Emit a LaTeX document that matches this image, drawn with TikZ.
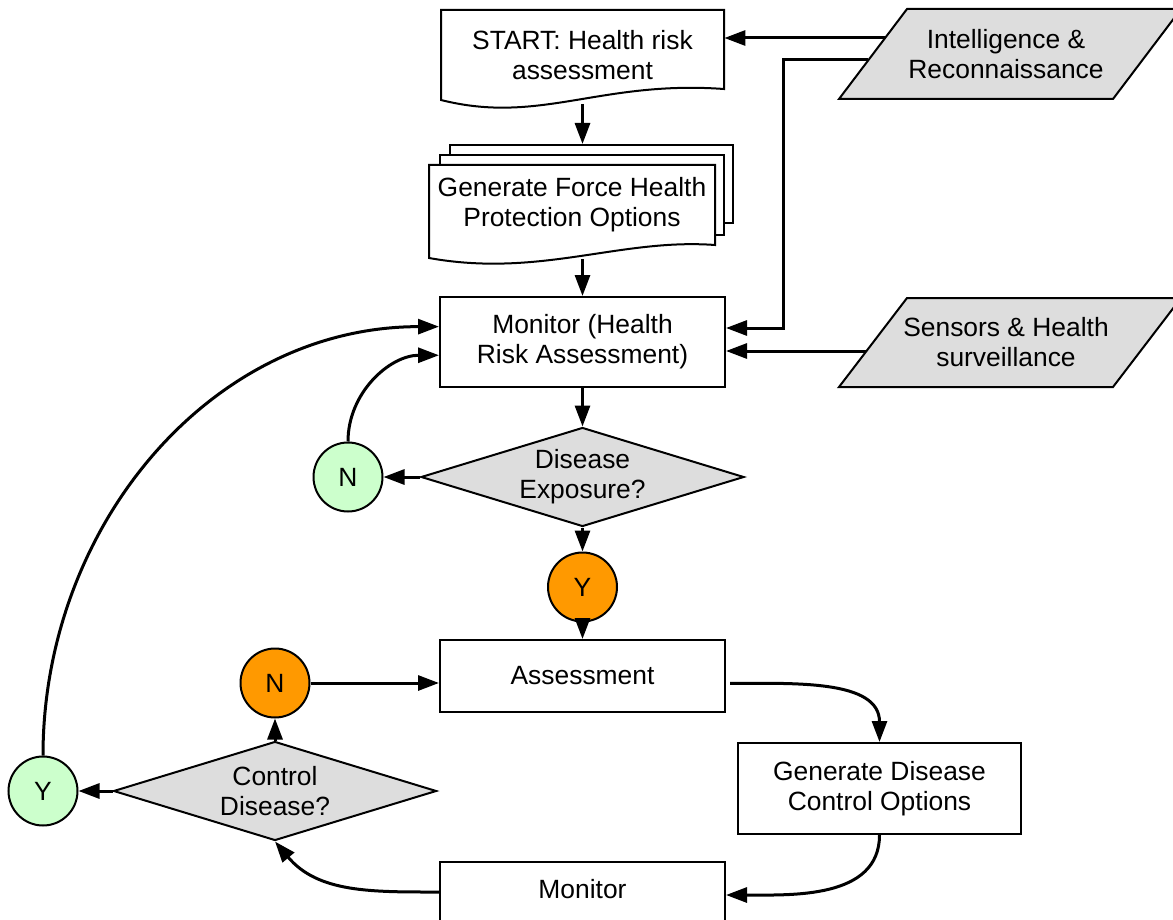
\documentclass[tikz,border=0pt]{standalone}
\usepackage{fontspec}
\setmainfont{Liberation Sans}
\usetikzlibrary{shapes.geometric,arrows.meta,calc}
\definecolor{shade}{HTML}{DDDDDD}
\definecolor{mint}{HTML}{CCFFCC}
\definecolor{amber}{HTML}{FF9900}
\begin{document}
\begin{tikzpicture}[x=0.5pt,y=-0.5pt,
  every node/.style={font=\fontsize{13.2}{15}\selectfont},
  proc/.style={draw,line width=1pt,fill=white,minimum width=142.5pt,align=center,inner sep=2pt},
  sheet/.style={draw,line width=1pt,fill=white,minimum width=141.5pt},
  doctext/.style={align=center,inner sep=0pt},
  source/.style={draw,line width=1pt,fill=shade},
  choice/.style={diamond,draw,line width=1pt,fill=shade,aspect=3.26,minimum width=161.5pt,
    minimum height=49.5pt,inner sep=0pt,align=center},
  yesno/.style={circle,draw,line width=1pt,minimum size=34.5pt,inner sep=0pt},
  conn/.style={line width=1.5pt,-{Triangle[length=10.5pt,width=7.5pt]}}]
\useasboundingbox (0,0) rectangle (1173,920);
\clip (0,0) rectangle (1173,920);

% inputs on the right
\draw[source] (907,9) -- (1181,9) -- (1113,99) -- (839,99) -- cycle;
\node[doctext] (intel) at (1006,54) {Intelligence \&\\Reconnaissance};
\draw[source] (907,298) -- (1181,298) -- (1113,387) -- (839,387) -- cycle;
\node[doctext] (sens) at (1006,342.5) {Sensors \& Health\\surveillance};

% start document
\draw[line width=1pt,fill=white] (441,10) -- (724,10) -- (724,89)
  .. controls (600,80) and (540,125) .. (441,100) -- cycle;
\node[doctext,minimum width=141.5pt] (start) at (582.5,55) {START: Health risk\\assessment};
\coordinate (startfoot) at (582.5,104);

% pile of documents
\node[sheet,minimum height=39pt] (pile) at (591.5,184) {};
\node[sheet,minimum width=142pt,minimum height=40pt] (pile2) at (582,195) {};
\draw[line width=1pt,fill=white] (429,165) -- (715,165) -- (715,245)
  .. controls (620,238) and (540,278) .. (429,258) -- cycle;
\node[doctext] (front) at (572,205) {Generate Force Health\\Protection Options};
\coordinate (frontfoot) at (582.5,259);

% main column
\node[proc,minimum height=45pt] (mon) at (582.5,342) {Monitor (Health\\Risk Assessment)};
\node[choice] (dis) at (582.5,477) {Disease\\Exposure?};
\node[yesno,fill=mint] (n1) at (348,477) {N};
\node[yesno,fill=amber] (y1) at (582.5,587) {Y};
\node[proc,minimum height=36pt] (assess) at (582.5,676) {Assessment};
\node[proc,minimum width=141.5pt,minimum height=45.5pt] (gendis) at (879.5,788.5) {Generate Disease\\Control Options};
\node[proc,anchor=north,inner ysep=8.5pt,text height=9.5pt,text depth=30pt] (mon2) at (582.5,861) {Monitor};
\node[choice] (ctrl) at (275,791) {Control\\Disease?};
\node[yesno,fill=amber] (n2) at (275,683) {N};
\node[yesno,fill=mint] (y2) at (43,791) {Y};

% attach points
\coordinate (ia) at (885,38);
\coordinate (ib) at (868,60);
\coordinate (sa) at (866,351);
\coordinate (bend) at (783,328);
\coordinate (monhigh) at ($(mon.north west)!0.333!(mon.south west)$);
\coordinate (monlow) at ($(mon.north west)!0.644!(mon.south west)$);
\coordinate (assessout) at ($(assess.north east)!0.6!(assess.south east)+(4,0)$);
\coordinate (mon2in) at ($(mon2.north east)+(0,34)$);
\coordinate (mon2out) at ($(mon2.north west)+(0,31)$);

% connectors
\draw[conn] (startfoot) -- (startfoot |- pile.north);
\draw[conn] (frontfoot) -- (mon.north);
\draw[conn] (ia) -- (ia -| start.east);
\draw[conn] (ib) -| (bend) -- (bend -| mon.east);
\draw[conn] (sa) -- (sa -| mon.east);
\draw[conn] (mon.south) -- (dis.north);
\draw[conn] (dis.west) -- (n1.east);
\draw[conn] (n1.north) to[out=90,in=180] (monlow);
\draw[conn] (dis.south) -- (y1.north);
\draw[conn] (y1.south) -- (assess.north);
\draw[conn] (assessout) to[out=0,in=90] (gendis.north);
\draw[conn] (gendis.south) to[out=-90,in=0] (mon2in);
\draw[conn] (mon2out) to[out=180,in=-50] (ctrl.south);
\draw[conn] (ctrl.west) -- (y2.east);
\draw[conn] (ctrl.north) -- (n2.south);
\draw[conn] (n2.east) -- (n2.east -| assess.west);
\draw[conn] (y2.north) to[out=90,in=180] (monhigh);
\end{tikzpicture}
\end{document}
